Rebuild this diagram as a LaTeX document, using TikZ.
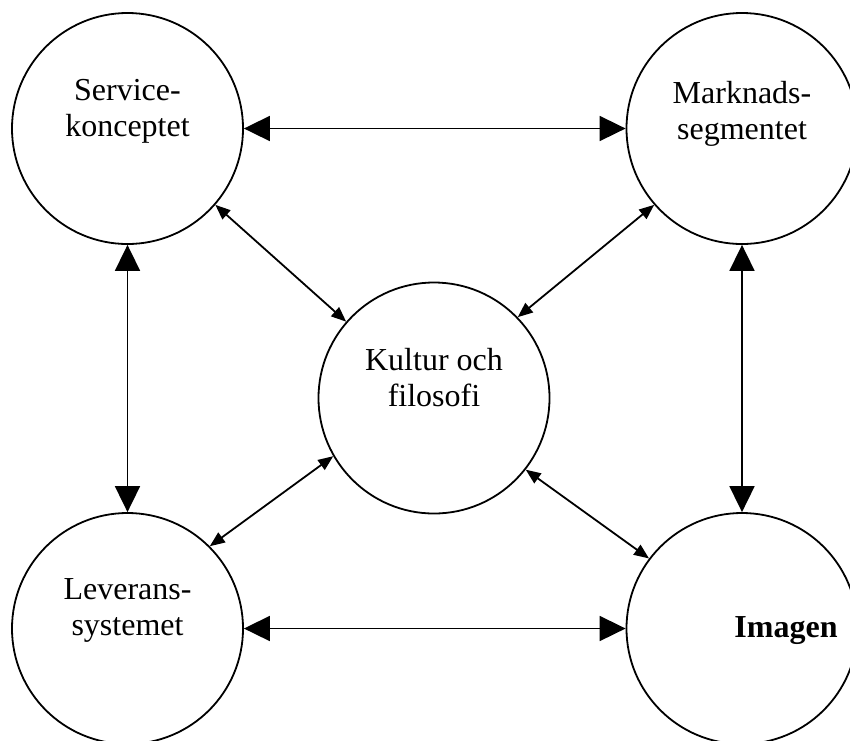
\documentclass[tikz,border=0pt]{standalone}
\usepackage{fontspec}
\setmainfont{Liberation Serif}
\usetikzlibrary{arrows.meta}

\begin{document}
\begin{tikzpicture}[
      x=1pt, y=-1pt,
      area/.style={
          draw=black,
          circle,
          line width=1.8pt,
          minimum size=231pt,
          inner sep=0pt
        },
      areatext/.style={
          font=\fontsize{32}{36}\selectfont,
          align=center,
          inner sep=0pt
        },
      bigflow/.style={{Triangle[length=26pt,width=25pt]}-{Triangle[length=26pt,width=25pt]}, line width=1.8pt},
      smallflow/.style={{Triangle[length=15pt,width=12pt]}-{Triangle[length=15pt,width=12pt]}, line width=1.8pt}
    ]
    \useasboundingbox (0,0) rectangle (850,740);

    \node[area] (service) at (127.5,128.5) {};
    \node[area] (market) at (742,128.5) {};
    \node[area] (culture) at (434,398) {};
    \node[area] (delivery) at (127.5,628.5) {};
    \node[area] (image) at (742,628.5) {};

    \node[areatext] (service-label) at (127.5,111.5) {Service-\\konceptet};
    \node[areatext] (market-label) at (742,113.5) {Marknads-\\segmentet};
    \node[areatext] (culture-label) at (434,377.5) {Kultur och\\filosofi};
    \node[areatext] (delivery-label) at (127.5,610.5) {Leverans-\\systemet};
    \node[areatext, font=\fontsize{32}{36}\selectfont\bfseries] (image-label) at (786,631) {Imagen};

    \draw[bigflow] (service) -- (market);
    \draw[bigflow] (service) -- (delivery);
    \draw[bigflow] (market) -- (image);
    \draw[bigflow] (delivery) -- (image);

    \draw[smallflow] (service.-41) -- (culture.139);
    \draw[smallflow] (market.221) -- (culture.44);
    \draw[smallflow] (delivery.45) -- (culture.210);
    \draw[smallflow] (image.143) -- (culture.-38);
  \end{tikzpicture}
\end{document}
